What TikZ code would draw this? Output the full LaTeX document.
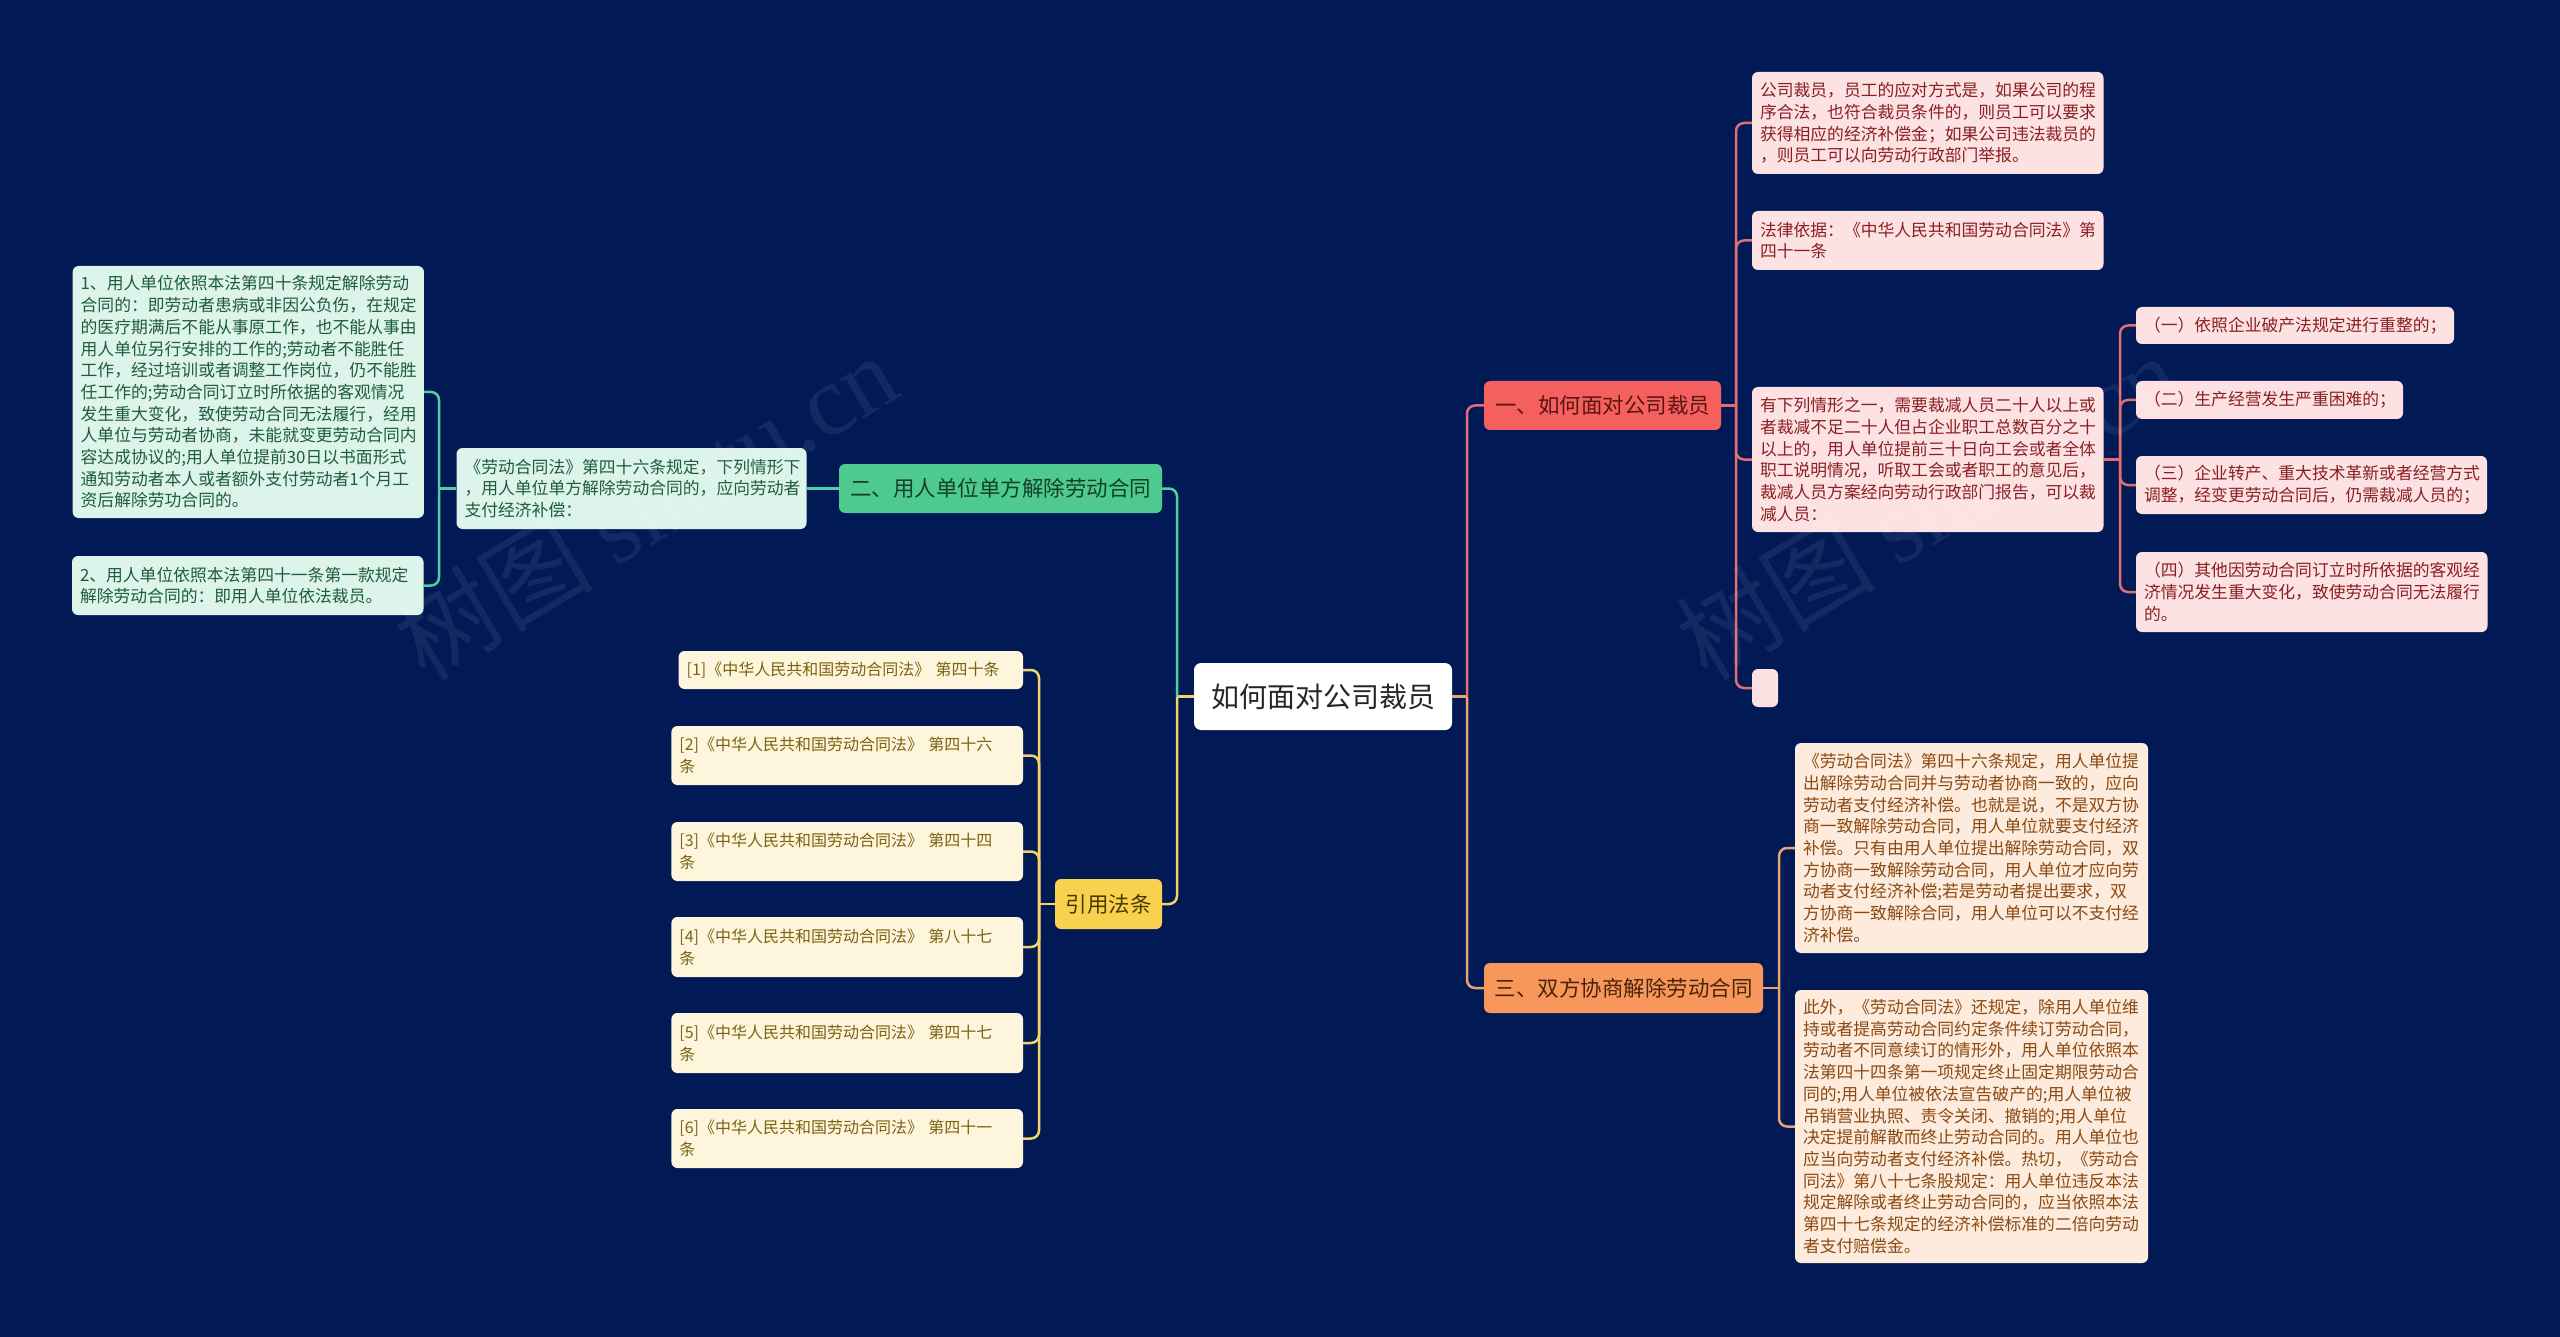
\documentclass[tikz,border=0pt]{standalone}
\usepackage{fontspec}
\setmainfont{Noto Sans CJK SC}
\newfontfamily\wmlatin{Liberation Serif}
\usetikzlibrary{calc}
\definecolor{bg}{HTML}{011A56}
\definecolor{redF}{HTML}{F4605E}
\definecolor{redT}{HTML}{5A1414}
\definecolor{oraF}{HTML}{F8975B}
\definecolor{oraT}{HTML}{4A2408}
\definecolor{grnF}{HTML}{4FCA8E}
\definecolor{grnT}{HTML}{12402A}
\definecolor{yelF}{HTML}{F8D24F}
\definecolor{yelT}{HTML}{4A3800}
\definecolor{pinkF}{HTML}{FDE2E3}
\definecolor{pinkT}{HTML}{8A1F22}
\definecolor{peachF}{HTML}{FDEBDD}
\definecolor{peachT}{HTML}{8B4A12}
\definecolor{mintF}{HTML}{DDF4EA}
\definecolor{mintT}{HTML}{1E5B40}
\definecolor{refF}{HTML}{FEF6DC}
\definecolor{refT}{HTML}{7D6212}
\definecolor{lnRc}{HTML}{E06E72}
\definecolor{lnOc}{HTML}{E9A272}
\definecolor{lnGc}{HTML}{4FCFA3}
\definecolor{lnYc}{HTML}{F3D46A}
\tikzset{
  box/.style={rounded corners=6pt, inner xsep=8pt, inner ysep=0pt, align=left, anchor=center},
  smallfont/.style={font=\fontsize{16.8}{21.7}\selectfont},
  leafR/.style={box, smallfont, fill=pinkF, text=pinkT},
  leafO/.style={box, smallfont, fill=peachF, text=peachT},
  leafG/.style={box, smallfont, fill=mintF, text=mintT},
  leafY/.style={box, font=\fontsize{16}{21.7}\selectfont, fill=refF, text=refT},
  branch/.style={rounded corners=6pt, inner sep=0pt, align=center, font=\fontsize{21.5}{26}\selectfont},
  rootbox/.style={rounded corners=7pt, inner sep=0pt, align=center, fill=white, text=black!85, font=\fontsize{28}{32}\selectfont},
  link/.style={line width=2.5pt, rounded corners=8pt},
  lnR/.style={link, draw=lnRc},
  lnO/.style={link, draw=lnOc},
  lnG/.style={link, draw=lnGc},
  lnY/.style={link, draw=lnYc},
  wmark/.style={rotate=31, text=white, opacity=0.07, font=\fontsize{100}{110}\selectfont}
}
\begin{document}
\begin{tikzpicture}[x=1pt,y=-1pt]
\fill[bg] (0,0) rectangle (2560,1337);
\useasboundingbox (0,0) rectangle (2560,1337);

% bus coordinates
\coordinate (vR) at (1467,0);
\coordinate (vL) at (1177,0);
\coordinate (vC) at (1736,0);
\coordinate (vS) at (2120,0);
\coordinate (vO) at (1779,0);
\coordinate (vG) at (439,0);
\coordinate (vY) at (1039,0);

% root and branches
\node[rootbox, minimum width=258pt, minimum height=67pt] (root) at (1323,696.5) {如何面对公司裁员};
\node[branch, fill=redF, text=redT, minimum width=237pt, minimum height=49pt] (b1) at (1602.5,405.5) {一、如何面对公司裁员};
\node[branch, fill=oraF, text=oraT, minimum width=279pt, minimum height=50pt] (b3) at (1623.5,988) {三、双方协商解除劳动合同};
\node[branch, fill=grnF, text=grnT, minimum width=323pt, minimum height=49pt] (b2) at (1000.5,488.5) {二、用人单位单方解除劳动合同};
\node[branch, fill=yelF, text=yelT, minimum width=107pt, minimum height=50pt] (b4) at (1108.5,904) {引用法条};

% branch 1 children
\node[leafR, text width=335.5pt, minimum height=102pt] (c1a) at (1927.75,123) {公司裁员，员工的应对方式是，如果公司的程\\序合法，也符合裁员条件的，则员工可以要求\\获得相应的经济补偿金；如果公司违法裁员的\\，则员工可以向劳动行政部门举报。};
\node[leafR, text width=335.5pt, minimum height=59pt] (c1b) at (1927.75,240.5) {法律依据：《中华人民共和国劳动合同法》第\\四十一条};
\node[leafR, text width=335.5pt, minimum height=145pt] (c1c) at (1927.75,459.5) {有下列情形之一，需要裁减人员二十人以上或\\者裁减不足二十人但占企业职工总数百分之十\\以上的，用人单位提前三十日向工会或者全体\\职工说明情况，听取工会或者职工的意见后，\\裁减人员方案经向劳动行政部门报告，可以裁\\减人员：};
\node[box, fill=pinkF, inner xsep=0pt, minimum width=26pt, minimum height=38pt] (e1) at (1765,688) {};

\node[leafR, text width=302pt, minimum height=37pt] (s1) at (2295,325.5) {（一）依照企业破产法规定进行重整的；};
\node[leafR, text width=251pt, minimum height=38pt] (s2) at (2269.5,400) {（二）生产经营发生严重困难的；};
\node[leafR, text width=335pt, minimum height=58pt] (s3) at (2311.5,485) {（三）企业转产、重大技术革新或者经营方式\\调整，经变更劳动合同后，仍需裁减人员的；};
\node[leafR, text width=335.5pt, minimum height=80pt] (s4) at (2311.75,592) {（四）其他因劳动合同订立时所依据的客观经\\济情况发生重大变化，致使劳动合同无法履行\\的。};

% branch 3 children
\node[leafO, text width=337pt, minimum height=210pt] (c3a) at (1971.5,848) {《劳动合同法》第四十六条规定，用人单位提\\出解除劳动合同并与劳动者协商一致的，应向\\劳动者支付经济补偿。也就是说，不是双方协\\商一致解除劳动合同，用人单位就要支付经济\\补偿。只有由用人单位提出解除劳动合同，双\\方协商一致解除劳动合同，用人单位才应向劳\\动者支付经济补偿;若是劳动者提出要求，双\\方协商一致解除合同，用人单位可以不支付经\\济补偿。};
\node[leafO, text width=337pt, minimum height=273pt] (c3b) at (1971.5,1126.5) {此外，《劳动合同法》还规定，除用人单位维\\持或者提高劳动合同约定条件续订劳动合同，\\劳动者不同意续订的情形外，用人单位依照本\\法第四十四条第一项规定终止固定期限劳动合\\同的;用人单位被依法宣告破产的;用人单位被\\吊销营业执照、责令关闭、撤销的;用人单位\\决定提前解散而终止劳动合同的。用人单位也\\应当向劳动者支付经济补偿。热切，《劳动合\\同法》第八十七条股规定：用人单位违反本法\\规定解除或者终止劳动合同的，应当依照本法\\第四十七条规定的经济补偿标准的二倍向劳动\\者支付赔偿金。};

% branch 2 children
\node[leafG, text width=334pt, minimum height=81pt] (g1) at (631.5,488.5) {《劳动合同法》第四十六条规定，下列情形下\\，用人单位单方解除劳动合同的，应向劳动者\\支付经济补偿：};
\node[leafG, text width=335.3pt, minimum height=252pt] (g2) at (248.3,392) {1、用人单位依照本法第四十条规定解除劳动\\合同的：即劳动者患病或非因公负伤，在规定\\的医疗期满后不能从事原工作，也不能从事由\\用人单位另行安排的工作的;劳动者不能胜任\\工作，经过培训或者调整工作岗位，仍不能胜\\任工作的;劳动合同订立时所依据的客观情况\\发生重大变化，致使劳动合同无法履行，经用\\人单位与劳动者协商，未能就变更劳动合同内\\容达成协议的;用人单位提前30日以书面形式\\通知劳动者本人或者额外支付劳动者1个月工\\资后解除劳功合同的。};
\node[leafG, text width=335.5pt, minimum height=59pt] (g3) at (247.75,585.5) {2、用人单位依照本法第四十一条第一款规定\\解除劳动合同的：即用人单位依法裁员。};

% branch 4 children
\node[leafY, text width=328.4pt, minimum height=38pt] (r1) at (850.8,670) {[1]《中华人民共和国劳动合同法》 第四十条};
\node[leafY, text width=335.6pt, minimum height=59pt] (r2) at (847.2,755.5) {[2]《中华人民共和国劳动合同法》 第四十六\\条};
\node[leafY, text width=335.6pt, minimum height=59pt] (r3) at (847.2,851.5) {[3]《中华人民共和国劳动合同法》 第四十四\\条};
\node[leafY, text width=335.6pt, minimum height=60pt] (r4) at (847.2,947) {[4]《中华人民共和国劳动合同法》 第八十七\\条};
\node[leafY, text width=335.6pt, minimum height=60pt] (r5) at (847.2,1043) {[5]《中华人民共和国劳动合同法》 第四十七\\条};
\node[leafY, text width=335.6pt, minimum height=59pt] (r6) at (847.2,1138.5) {[6]《中华人民共和国劳动合同法》 第四十一\\条};

% connectors: root
\draw[lnO] (root.east) -- (vR |- root.east);
\draw[lnR] (vR |- root.east) |- (b1.west);
\draw[lnO] (vR |- root.east) |- (b3.west);
\draw[lnY] (root.west) -- (vL |- root.west);
\draw[lnG] (vL |- root.west) |- (b2.east);
\draw[lnY] (vL |- root.west) |- (b4.east);

% branch 1
\draw[lnR] (b1.east) -- (vC |- b1.east);
\foreach \n in {c1a,c1b,c1c,e1} \draw[lnR] (vC |- b1.east) |- (\n.west);
\draw[lnR] (c1c.east) -- (vS |- c1c.east);
\foreach \n in {s1,s2,s3,s4} \draw[lnR] (vS |- c1c.east) |- (\n.west);

% branch 3
\draw[lnO] (b3.east) -- (vO |- b3.east);
\foreach \n in {c3a,c3b} \draw[lnO] (vO |- b3.east) |- (\n.west);

% branch 2
\draw[lnG] (b2.west) -- (g1.east);
\draw[lnG] (g1.west) -- (vG |- g1.west);
\foreach \n in {g2,g3} \draw[lnG] (vG |- g1.west) |- (\n.east);

% branch 4
\draw[lnY] (b4.west) -- (vY |- b4.west);
\foreach \n in {r1,r2,r3,r4,r5,r6} \draw[lnY] (vY |- b4.west) |- (\n.east);

% watermarks
\node[wmark] (wm1) at (645,506) {树图 {\wmlatin shutu.cn}};
\node[wmark] (wm2) at (1927,506) {树图 {\wmlatin shutu.cn}};
\end{tikzpicture}
\end{document}
